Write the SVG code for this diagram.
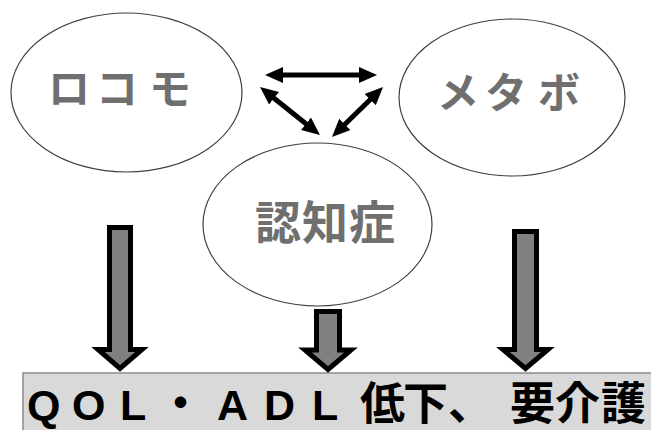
<svg xmlns="http://www.w3.org/2000/svg" width="651" height="430" viewBox="0 0 651 430">
<style>
.node ellipse{fill:#fff;stroke:#404040;stroke-width:1.2}
.lbl{font-family:"Noto Sans CJK JP","Noto Sans",sans-serif;font-weight:bold;fill:#6f6f6f;text-anchor:middle}
.dbl{stroke:#000;stroke-width:5;fill:none}
.blk{fill:#808080;stroke:#000;stroke-width:5;stroke-linejoin:miter}
.bar{font-weight:bold;fill:#000}
.lat{font-family:"Liberation Sans",Arial,sans-serif;font-size:43px}
.cjk{font-family:"Noto Sans CJK JP",sans-serif;font-size:45px}
</style>
<defs>
<marker id="ah" markerUnits="userSpaceOnUse" markerWidth="20" markerHeight="18" refX="2" refY="8" orient="auto-start-reverse" viewBox="0 0 20 16">
<path d="M0,0 L18,8 L0,16 Z" fill="#000"/>
</marker>
</defs>
<rect width="651" height="430" fill="#fff"/>
<g id="node-locomo" class="node">
<ellipse cx="126.5" cy="92.5" rx="115.5" ry="79.5"/>
<text class="lbl" font-size="42" x="69 117 170" y="104">ロコモ</text>
</g>
<g id="node-metabo" class="node">
<ellipse cx="512" cy="97.5" rx="113" ry="78.5"/>
<text class="lbl" font-size="42" x="458 506 559" y="108">メタボ</text>
</g>
<g id="node-ninchisho" class="node">
<ellipse cx="317.5" cy="224.5" rx="114.5" ry="81.5"/>
<text class="lbl" font-size="46" x="278 325 372" y="239">認知症</text>
</g>
<g id="node-outcome">
<rect x="23" y="373" width="640" height="70" fill="#d9d9d9" stroke="#8c8c8c" stroke-width="1.5"/>
<text class="bar" y="420"><tspan class="lat" x="27">Q</tspan><tspan class="lat" x="72">O</tspan><tspan class="lat" x="120">L</tspan><tspan class="cjk" x="158">・</tspan><tspan class="lat" x="217">A</tspan><tspan class="lat" x="264">D</tspan><tspan class="lat" x="312">L</tspan><tspan class="cjk" x="360">低</tspan><tspan class="cjk" x="403">下</tspan><tspan class="cjk" x="448">、</tspan><tspan class="cjk" x="510">要</tspan><tspan class="cjk" x="555">介</tspan><tspan class="cjk" x="601">護</tspan></text>
</g>
<g id="connectors">
<line class="dbl" x1="281" y1="75" x2="361" y2="75" marker-start="url(#ah)" marker-end="url(#ah)"/>
<line class="dbl" x1="272.5" y1="97" x2="307.5" y2="125" marker-start="url(#ah)" marker-end="url(#ah)"/>
<line class="dbl" x1="371.6" y1="98.2" x2="343.4" y2="125.8" marker-start="url(#ah)" marker-end="url(#ah)"/>
<path class="blk" d="M109.5,227.5 L130.5,227.5 L130.5,349.5 L142,349.5 L120,368.5 L98,349.5 L109.5,349.5 Z"/>
<path class="blk" d="M316.5,311.5 L339.5,311.5 L339.5,350 L351,350 L328,369.5 L305,350 L316.5,350 Z"/>
<path class="blk" d="M514.5,231.5 L536.5,231.5 L536.5,349.5 L548,349.5 L525.5,368.5 L503,349.5 L514.5,349.5 Z"/>
</g>
</svg>
